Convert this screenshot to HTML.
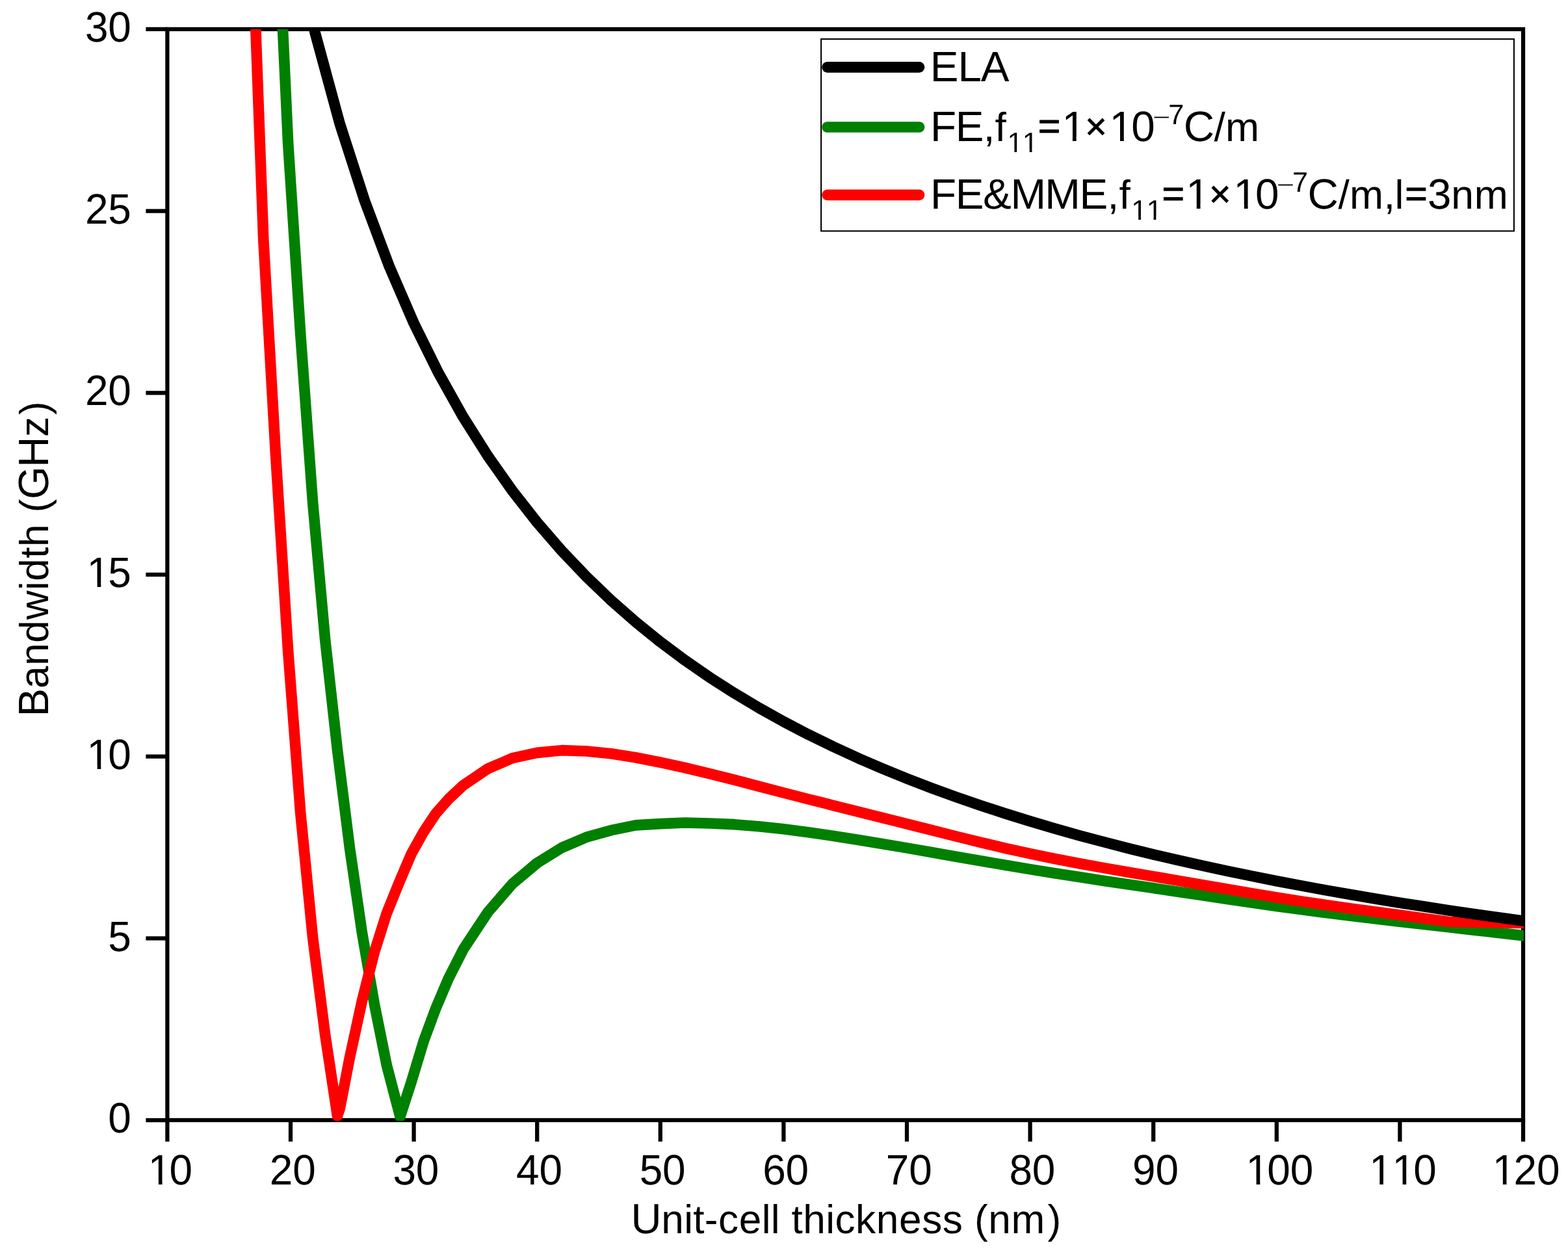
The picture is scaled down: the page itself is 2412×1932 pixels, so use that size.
<!DOCTYPE html>
<html lang="en">
<head>
<meta charset="utf-8">
<title>Bandwidth vs unit-cell thickness</title>
<style>html,body{margin:0;padding:0;background:#fff;}body{width:2412px;height:1932px;overflow:hidden;}svg{display:block;}</style>
</head>
<body>
<svg width="2412" height="1932" viewBox="0 0 2412 1932" role="img" aria-label="Bandwidth (GHz) versus unit-cell thickness (nm)" font-family="'Liberation Sans', sans-serif" fill="#000" style="font-kerning:none;display:block" text-rendering="geometricPrecision">
<rect width="2412" height="1932" fill="#fff"/>
<defs><clipPath id="plot"><rect x="257.40" y="44.90" width="2086.60" height="1679.20"/></clipPath></defs>
<g stroke="#000" stroke-width="6.25" fill="none" stroke-linecap="butt">
<rect x="257.40" y="44.90" width="2085.60" height="1678.10"/>
<path d="M257.40 1723.00V1756.00M447.00 1723.00V1756.00M636.60 1723.00V1756.00M826.20 1723.00V1756.00M1015.80 1723.00V1756.00M1205.40 1723.00V1756.00M1395.00 1723.00V1756.00M1584.60 1723.00V1756.00M1774.20 1723.00V1756.00M1963.80 1723.00V1756.00M2153.40 1723.00V1756.00M2343.00 1723.00V1756.00M257.40 1723.00H224.40M257.40 1443.32H224.40M257.40 1163.63H224.40M257.40 883.95H224.40M257.40 604.27H224.40M257.40 324.58H224.40M257.40 44.90H224.40"/>
</g>
<g clip-path="url(#plot)">
<polyline points="405.3,-594.8 424.2,-186.9 443.2,221.0 462.2,513.6 481.1,772.7 500.1,983.6 519.0,1153.6 538.0,1304.6 557.0,1435.2 575.9,1544.6 594.9,1638.8 615.5,1717.5 632.8,1664.0 651.8,1601.1 670.7,1550.2 689.7,1505.5 712.4,1460.7 750.4,1403.1 788.3,1359.4 826.2,1327.5 864.1,1304.0 902.0,1287.8 940.0,1277.2 977.9,1269.4 1015.8,1267.1 1053.7,1265.5 1091.6,1266.5 1129.6,1268.2 1167.5,1271.2 1205.4,1275.3 1243.3,1280.3 1281.2,1285.7 1319.2,1291.7 1357.1,1297.9 1395.0,1304.4 1432.9,1311.0 1470.8,1317.7 1508.8,1324.3 1546.7,1330.8 1584.6,1337.1 1622.5,1343.2 1660.4,1349.1 1698.4,1354.9 1736.3,1360.5 1774.2,1366.1 1812.1,1371.7 1850.0,1377.3 1888.0,1382.9 1925.9,1388.5 1963.8,1393.9 2001.7,1399.0 2039.6,1404.0 2077.6,1408.7 2115.5,1413.2 2153.4,1417.7 2191.3,1422.0 2229.2,1426.3 2267.2,1430.6 2305.1,1434.9 2343.0,1439.1 2362.0,1441.2" fill="none" stroke="#008000" stroke-width="16.67" stroke-linejoin="round" stroke-linecap="butt"/>
<polyline points="367.4,-662.1 386.3,-146.1 405.3,369.9 424.2,702.0 443.2,1002.2 462.2,1250.2 481.1,1442.2 500.1,1591.3 519.0,1716.4 522.8,1705.0 538.0,1626.4 557.0,1539.2 575.9,1464.4 594.9,1404.6 613.8,1357.9 632.8,1313.3 651.8,1279.3 670.7,1251.0 689.7,1229.4 712.4,1208.1 750.4,1182.4 788.3,1166.2 826.2,1157.9 864.1,1154.2 902.0,1155.5 940.0,1159.3 977.9,1165.3 1015.8,1172.7 1053.7,1181.0 1091.6,1190.1 1129.6,1199.7 1167.5,1209.6 1205.4,1219.5 1243.3,1229.2 1281.2,1238.8 1319.2,1248.3 1357.1,1257.8 1395.0,1267.3 1432.9,1276.9 1470.8,1286.5 1508.8,1295.8 1546.7,1304.8 1584.6,1313.2 1622.5,1321.0 1660.4,1328.3 1698.4,1335.1 1736.3,1341.7 1774.2,1348.1 1812.1,1354.6 1850.0,1361.2 1888.0,1367.7 1925.9,1374.2 1963.8,1380.5 2001.7,1386.5 2039.6,1392.1 2077.6,1397.4 2115.5,1402.5 2153.4,1407.6 2191.3,1412.7 2229.2,1418.0 2343.0,1419.9 2362.0,1420.2" fill="none" stroke="#ff0000" stroke-width="16.67" stroke-linejoin="round" stroke-linecap="butt"/>
<polyline points="447.0,-115.9 484.9,51.3 522.8,190.6 560.8,308.4 598.7,409.5 636.6,497.1 674.5,573.7 712.4,641.3 750.4,701.4 788.3,755.1 826.2,803.5 864.1,847.3 902.0,887.1 940.0,923.5 977.9,956.8 1015.8,987.4 1053.7,1015.7 1091.6,1041.9 1129.6,1066.2 1167.5,1088.9 1205.4,1110.0 1243.3,1129.8 1281.2,1148.3 1319.2,1165.8 1357.1,1182.1 1395.0,1197.6 1432.9,1212.2 1470.8,1226.0 1508.8,1239.1 1546.7,1251.5 1584.6,1263.3 1622.5,1274.5 1660.4,1285.2 1698.4,1295.3 1736.3,1305.1 1774.2,1314.4 1812.1,1323.2 1850.0,1331.7 1888.0,1339.9 1925.9,1347.7 1963.8,1355.2 2001.7,1362.4 2039.6,1369.4 2077.6,1376.0 2115.5,1382.5 2153.4,1388.7 2191.3,1394.6 2229.2,1400.4 2267.2,1405.9 2305.1,1411.3 2343.0,1416.5 2362.0,1419.1" fill="none" stroke="#000000" stroke-width="16.67" stroke-linejoin="round" stroke-linecap="butt"/>
</g>
<text transform="scale(0.9750 1)"><tspan x="170.61" y="1742.20" font-size="65.55">0</tspan></text>
<text transform="scale(0.9750 1)"><tspan x="170.61" y="1462.52" font-size="65.55">5</tspan></text>
<text transform="scale(0.9750 1)"><tspan x="137.00 170.61" y="1182.83" font-size="65.55">10</tspan></text><path fill="#fff" d="M137.74 1176.94h11.90v6.60h-11.90zM155.29 1176.94h11.40v6.60h-11.40z"/>
<text transform="scale(0.9750 1)"><tspan x="137.00 170.61" y="903.15" font-size="65.55">15</tspan></text><path fill="#fff" d="M137.74 897.25h11.90v6.60h-11.90zM155.29 897.25h11.40v6.60h-11.40z"/>
<text transform="scale(0.9750 1)"><tspan x="134.33 170.61" y="623.47" font-size="65.55">20</tspan></text>
<text transform="scale(0.9750 1)"><tspan x="134.33 170.61" y="343.78" font-size="65.55">25</tspan></text>
<text transform="scale(0.9750 1)"><tspan x="134.33 170.61" y="64.10" font-size="65.55">30</tspan></text>
<text transform="scale(0.9750 1)"><tspan x="233.68 267.30" y="1822.10" font-size="65.55">10</tspan></text><path fill="#fff" d="M232.01 1816.20h11.90v6.60h-11.90zM249.56 1816.20h11.40v6.60h-11.40z"/>
<text transform="scale(0.9750 1)"><tspan x="425.48 461.76" y="1822.10" font-size="65.55">20</tspan></text>
<text transform="scale(0.9750 1)"><tspan x="619.94 656.22" y="1822.10" font-size="65.55">30</tspan></text>
<text transform="scale(0.9750 1)"><tspan x="814.40 850.68" y="1822.10" font-size="65.55">40</tspan></text>
<text transform="scale(0.9750 1)"><tspan x="1008.86 1045.14" y="1822.10" font-size="65.55">50</tspan></text>
<text transform="scale(0.9750 1)"><tspan x="1203.32 1239.60" y="1822.10" font-size="65.55">60</tspan></text>
<text transform="scale(0.9750 1)"><tspan x="1397.79 1434.06" y="1822.10" font-size="65.55">70</tspan></text>
<text transform="scale(0.9750 1)"><tspan x="1592.25 1628.53" y="1822.10" font-size="65.55">80</tspan></text>
<text transform="scale(0.9750 1)"><tspan x="1786.71 1822.99" y="1822.10" font-size="65.55">90</tspan></text>
<text transform="scale(0.9750 1)"><tspan x="1965.70 1999.31 2035.59" y="1822.10" font-size="65.55">100</tspan></text><path fill="#fff" d="M1920.72 1816.20h11.90v6.60h-11.90zM1938.28 1816.20h11.40v6.60h-11.40z"/>
<text transform="scale(0.9750 1)"><tspan x="2160.16 2196.44 2230.05" y="1822.10" font-size="65.55">110</tspan></text><path fill="#fff" d="M2110.32 1816.20h11.90v6.60h-11.90zM2127.88 1816.20h11.40v6.60h-11.40zM2145.70 1816.20h11.90v6.60h-11.90zM2163.25 1816.20h11.40v6.60h-11.40z"/>
<text transform="scale(0.9750 1)"><tspan x="2354.62 2388.23 2424.51" y="1822.10" font-size="65.55">120</tspan></text><path fill="#fff" d="M2299.92 1816.20h11.90v6.60h-11.90zM2317.48 1816.20h11.40v6.60h-11.40z"/>
<text><tspan x="970.40" y="1897.00" font-size="65.24">U</tspan><tspan x="1017.13 1052.14 1066.24 1083.86 1105.03 1136.71 1171.73 1185.79 1199.89 1217.47 1235.22 1270.23 1284.45 1316.10 1347.79 1382.99 1418.16 1449.81 1481.34 1498.95 1520.16 1555.52" y="1897.00" font-size="62.16">nit-cell thickness (nm</tspan><tspan x="1611.57" y="1897.00" font-size="62.16">)</tspan></text>
<text transform="translate(74.0 1101.6) rotate(-90)"><tspan x="-0.65" y="0.00" font-size="65.24">B</tspan><tspan x="42.54 77.74 112.95 148.25 193.67 207.93 242.97 260.72 295.76 313.38" y="0.00" font-size="62.16">andwidth (</tspan><tspan x="333.52 382.81" y="0.00" font-size="65.24">GH</tspan><tspan x="429.51" y="0.00" font-size="62.16">z</tspan><tspan x="463.66" y="0.00" font-size="62.16">)</tspan></text>
<rect x="1263.1" y="60.1" width="1065.80" height="295.30" fill="#fff" stroke="#000" stroke-width="2.1"/>
<line x1="1272.6" y1="103.3" x2="1414.0" y2="103.3" stroke="#000000" stroke-width="16.67" stroke-linecap="round"/>
<line x1="1272.6" y1="195.5" x2="1414.0" y2="195.5" stroke="#008000" stroke-width="16.67" stroke-linecap="round"/>
<line x1="1272.6" y1="299.9" x2="1414.0" y2="299.9" stroke="#ff0000" stroke-width="16.67" stroke-linecap="round"/>
<text><tspan x="1430.85 1473.38 1508.64" y="124.90" font-size="65.55">ELA</tspan></text>
<text><tspan x="1430.90 1469.70" y="217.00" font-size="65.55">FE</tspan><tspan x="1512.77" y="217.00" font-size="63.60">,</tspan><tspan x="1530.60" y="217.00" font-size="62.46">f</tspan><tspan x="1549.47 1572.83" y="233.90" font-size="43.29">11</tspan><tspan x="1596.63" y="213.70" font-size="59.15" stroke="#000" stroke-width="1.0" stroke-linejoin="miter">=</tspan><tspan x="1633.43" y="217.00" font-size="65.55">1</tspan><tspan x="1669.20" y="213.71" font-size="57.24" stroke="#000" stroke-width="0.9" stroke-linejoin="miter">×</tspan><tspan x="1706.54" y="217.00" font-size="65.55">1</tspan><tspan x="1740.31" y="217.00" font-size="65.55">0</tspan><tspan x="1772.23" y="196.66" font-size="49.52" stroke="#fff" stroke-width="1.6" stroke-linejoin="miter">−</tspan><tspan x="1797.19" y="190.80" font-size="43.29">7</tspan><tspan x="1820.80" y="217.00" font-size="65.55">C</tspan><tspan x="1867.60" y="217.00" font-size="62.46">/</tspan><tspan x="1885.09" y="217.00" font-size="62.46">m</tspan></text><path fill="#fff" d="M1552.07 229.67h8.29v4.93h-8.29zM1564.18 229.67h7.95v4.93h-7.95zM1575.42 229.67h8.29v4.93h-8.29zM1587.54 229.67h7.95v4.93h-7.95zM1637.72 211.10h12.19v6.60h-12.19zM1655.70 211.10h11.68v6.60h-11.68zM1710.83 211.10h12.19v6.60h-12.19zM1728.82 211.10h11.68v6.60h-11.68z"/>
<text><tspan x="1430.90 1469.70 1512.12 1554.38 1607.36 1660.50" y="320.90" font-size="65.55">FE&amp;MME</tspan><tspan x="1703.57" y="320.90" font-size="63.60">,</tspan><tspan x="1721.40" y="320.90" font-size="62.46">f</tspan><tspan x="1740.27 1763.63" y="337.80" font-size="43.29">11</tspan><tspan x="1787.43" y="317.60" font-size="59.15" stroke="#000" stroke-width="1.0" stroke-linejoin="miter">=</tspan><tspan x="1824.23" y="320.90" font-size="65.55">1</tspan><tspan x="1860.00" y="317.61" font-size="57.24" stroke="#000" stroke-width="0.9" stroke-linejoin="miter">×</tspan><tspan x="1897.34" y="320.90" font-size="65.55">1</tspan><tspan x="1931.11" y="320.90" font-size="65.55">0</tspan><tspan x="1963.03" y="300.56" font-size="49.52" stroke="#fff" stroke-width="1.6" stroke-linejoin="miter">−</tspan><tspan x="1987.99" y="294.70" font-size="43.29">7</tspan><tspan x="2011.60" y="320.90" font-size="65.55">C</tspan><tspan x="2058.40" y="320.90" font-size="62.46">/</tspan><tspan x="2075.89" y="320.90" font-size="62.46">m</tspan><tspan x="2128.39" y="320.90" font-size="63.60">,</tspan><tspan x="2145.39" y="320.90" font-size="62.46">l</tspan><tspan x="2161.19" y="317.60" font-size="59.15" stroke="#000" stroke-width="1.0" stroke-linejoin="miter">=</tspan><tspan x="2195.99" y="320.90" font-size="65.55">3</tspan><tspan x="2232.22 2267.75" y="320.90" font-size="62.46">nm</tspan></text><path fill="#fff" d="M1742.87 333.57h8.29v4.93h-8.29zM1754.98 333.57h7.95v4.93h-7.95zM1766.22 333.57h8.29v4.93h-8.29zM1778.34 333.57h7.95v4.93h-7.95zM1828.52 315.00h12.19v6.60h-12.19zM1846.50 315.00h11.68v6.60h-11.68zM1901.63 315.00h12.19v6.60h-12.19zM1919.62 315.00h11.68v6.60h-11.68z"/>
</svg>
</body>
</html>
